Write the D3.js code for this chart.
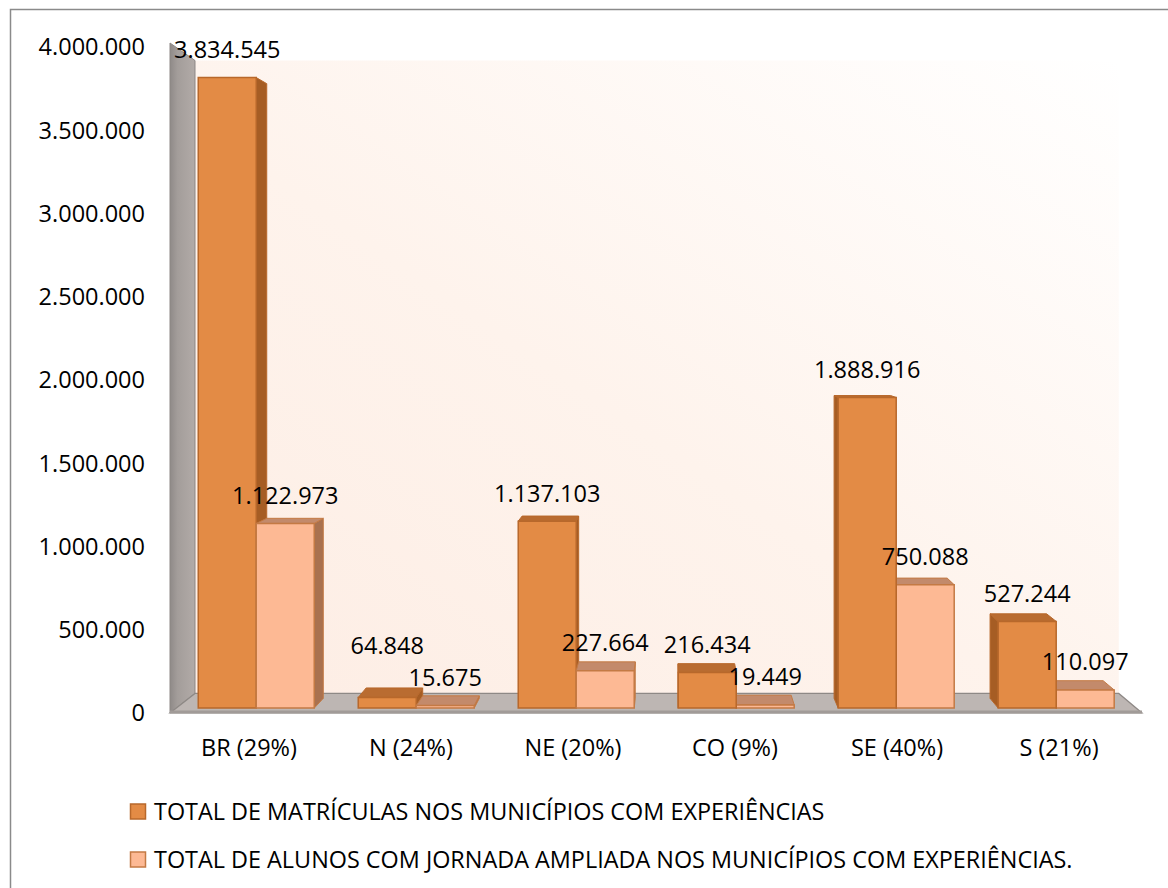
<!DOCTYPE html>
<html>
<head>
<meta charset="utf-8">
<script src="https://cdn.jsdelivr.net/npm/d3@7"></script>
<style>
  html, body { margin: 0; padding: 0; background: #ffffff; }
  svg { display: block; }
  text { font-family: "Open Sans", "Noto Sans", sans-serif; fill: #000; }
</style>
</head>
<body>
<svg id="chart" width="1168" height="888"></svg>
<script>
// Regions and their share of students with extended school day
const categories = ["BR (29%)", "N (24%)", "NE (20%)", "CO (9%)", "SE (40%)", "S (21%)"];
const seriesNames = [
  "TOTAL DE MATRÍCULAS NOS MUNICÍPIOS COM EXPERIÊNCIAS",
  "TOTAL DE ALUNOS COM JORNADA AMPLIADA NOS MUNICÍPIOS COM EXPERIÊNCIAS."
];
const matriculas = [3834545, 64848, 1137103, 216434, 1888916, 527244];
const jornadaAmpliada = [1122973, 15675, 227664, 19449, 750088, 110097];
const yTicks = [0, 500000, 1000000, 1500000, 2000000, 2500000, 3000000, 3500000, 4000000];

const fmt = v => d3.format(",")(v).replace(/,/g, ".");

const svg = d3.select("#chart");
const W = 1168, H = 888;

// Palette for the two series: front, side, top faces and outline
const styles = [
  { front: "#e38b45", side: "#a65d24", top: "#b96c31", stroke: "#b8682b" },
  { front: "#fdb994", side: "#a9714f", top: "#c38a6b", stroke: "#c47a44" }
];

// Front plane of the 3D box
const plot = { left: 170, right: 1142, top: 47, bottom: 713 };
const y = d3.scaleLinear().domain([0, 4000000]).range([plot.bottom, plot.top]);
const x0 = d3.scaleBand().domain(categories).range([plot.left, plot.right]);
const groupW = x0.bandwidth() * 0.725;
const x1 = d3.scaleBand().domain([0, 1]).range([0, groupW]);

// Simple perspective: depth d in [0,1] pulls points toward a vanishing point
const VP = { x: 674, y: 319 };
const K = 0.0496;
const proj = (px, py, d) => [px + d * K * (VP.x - px), py + d * K * (VP.y - py)];
const D0 = 0.25, D1 = 0.75;

const defs = svg.append("defs");
const wallGrad = defs.append("linearGradient").attr("id", "wallGrad")
  .attr("x1", "0%").attr("y1", "100%").attr("x2", "100%").attr("y2", "0%");
wallGrad.append("stop").attr("offset", "0%").attr("stop-color", "#fdede4");
wallGrad.append("stop").attr("offset", "45%").attr("stop-color", "#fef3ec");
wallGrad.append("stop").attr("offset", "100%").attr("stop-color", "#ffffff");

const sideGrad = defs.append("linearGradient").attr("id", "sideWallGrad")
  .attr("x1", "0%").attr("y1", "0%").attr("x2", "100%").attr("y2", "0%");
sideGrad.append("stop").attr("offset", "0%").attr("stop-color", "#8f8a88");
sideGrad.append("stop").attr("offset", "30%").attr("stop-color", "#a39d9a");
sideGrad.append("stop").attr("offset", "100%").attr("stop-color", "#b2aba8");

// Outer frame
svg.append("rect").attr("x", 10.5).attr("y", 9.5).attr("width", W).attr("height", H)
  .attr("fill", "none").attr("stroke", "#8a8a8a").attr("stroke-width", 1.5);

const line = d3.line();
const poly = pts => line(pts) + "Z";

// Back wall
svg.append("path")
  .attr("d", poly([proj(plot.left, plot.top, 1), proj(plot.right, plot.top, 1),
                   proj(plot.right, plot.bottom, 1), proj(plot.left, plot.bottom, 1)]))
  .attr("fill", "url(#wallGrad)");

// Left side wall
svg.append("path")
  .attr("d", poly([[plot.left, plot.top - 4], proj(plot.left, plot.top, 1),
                   proj(plot.left, plot.bottom, 1), [plot.left, plot.bottom]]))
  .attr("fill", "url(#sideWallGrad)").attr("stroke", "#8c8784").attr("stroke-width", 1);

// Floor
svg.append("path")
  .attr("d", poly([[plot.left, plot.bottom], [plot.right, plot.bottom],
                   proj(plot.right, plot.bottom, 1), proj(plot.left, plot.bottom, 1)]))
  .attr("fill", "#bdb6b3").attr("stroke", "#8e8986").attr("stroke-width", 1.2);
svg.append("rect").attr("x", plot.left).attr("y", plot.bottom - 2.5)
  .attr("width", plot.right - plot.left).attr("height", 3)
  .attr("fill", "#a19b98");

// Y axis labels
svg.append("g").selectAll("text").data(yTicks).join("text")
  .attr("x", 145).attr("y", d => y(d)).attr("dy", "0.36em")
  .attr("text-anchor", "end").style("font-size", "23.5px")
  .text(fmt);

// Bars
const bars = [];
categories.forEach((c, i) => {
  [matriculas[i], jornadaAmpliada[i]].forEach((v, s) => {
    const xl = x0(c) + (x0.bandwidth() - groupW) / 2 + x1(s);
    const xr = xl + x1.bandwidth();
    bars.push({ c, i, s, v, xl, xr, yt: y(v), yb: y(0) });
  });
});
// Paint the bars farthest from the vanishing point first
bars.sort((a, b) => Math.abs(b.xl + b.xr - 2 * VP.x) - Math.abs(a.xl + a.xr - 2 * VP.x));

const gBars = svg.append("g");
bars.forEach(b => {
  const st = styles[b.s];
  const ftl = proj(b.xl, b.yt, D0), ftr = proj(b.xr, b.yt, D0),
        fbr = proj(b.xr, b.yb, D0), fbl = proj(b.xl, b.yb, D0);
  const btl = proj(b.xl, b.yt, D1), btr = proj(b.xr, b.yt, D1),
        bbr = proj(b.xr, b.yb, D1), bbl = proj(b.xl, b.yb, D1);
  const g = gBars.append("g");
  if (b.xr < VP.x) {
    g.append("path").attr("d", poly([ftr, btr, bbr, fbr]))
      .attr("fill", st.side).attr("stroke", st.stroke).attr("stroke-width", 1);
  }
  if (b.xl > VP.x) {
    g.append("path").attr("d", poly([ftl, btl, bbl, fbl]))
      .attr("fill", st.side).attr("stroke", st.stroke).attr("stroke-width", 1);
  }
  if (b.yt > VP.y) {
    g.append("path").attr("d", poly([ftl, ftr, btr, btl]))
      .attr("fill", st.top).attr("stroke", st.stroke).attr("stroke-width", 1);
  }
  g.append("path").attr("d", poly([ftl, ftr, fbr, fbl]))
    .attr("fill", st.front).attr("stroke", st.stroke).attr("stroke-width", 1.5);
  b.front = { cx: (ftl[0] + ftr[0]) / 2, top: ftl[1] };
});

// Value labels above each bar
const gLabels = svg.append("g");
const labelFor = {};
bars.forEach(b => {
  const t = gLabels.append("text")
    .attr("x", b.front.cx).attr("y", b.front.top - 28).attr("dy", "0.36em")
    .attr("text-anchor", "middle").style("font-size", "23.5px")
    .text(fmt(b.v));
  labelFor[b.i + "-" + b.s] = { node: t, cy: b.front.top - 28 };
});
// Lift a total label above its neighbour when the two collide
categories.forEach((c, i) => {
  const a = labelFor[i + "-0"], p = labelFor[i + "-1"];
  const ba = a.node.node().getBBox(), bp = p.node.node().getBBox();
  const overlapX = ba.x + ba.width > bp.x + 2 && bp.x + bp.width > ba.x;
  const overlapY = ba.y + ba.height > bp.y && bp.y + bp.height > ba.y;
  if (overlapX && overlapY) a.node.attr("y", p.cy - 32);
});

// Category labels
svg.append("g").selectAll("text").data(categories).join("text")
  .attr("x", d => x0(d) + x0.bandwidth() / 2 - 2).attr("y", 748).attr("dy", "0.36em")
  .attr("text-anchor", "middle").style("font-size", "23.5px")
  .text(d => d);

// Legend
const legend = svg.append("g");
seriesNames.forEach((name, s) => {
  const cy = 811.5 + s * 48;
  legend.append("rect").attr("x", 130.5).attr("y", cy - 7.5).attr("width", 15).attr("height", 15)
    .attr("fill", styles[s].front).attr("stroke", styles[s].stroke).attr("stroke-width", 1.5);
  legend.append("text").attr("x", 154).attr("y", cy).attr("dy", "0.36em")
    .style("font-size", "23.4px").text(name);
});
</script>
</body>
</html>
